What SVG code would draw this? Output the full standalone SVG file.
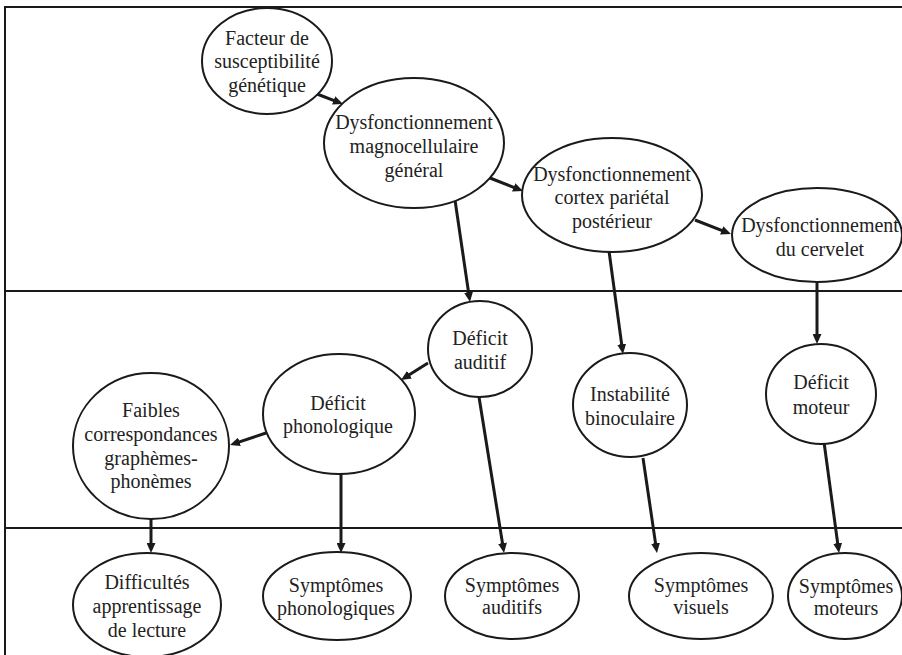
<svg xmlns="http://www.w3.org/2000/svg" width="902" height="655" viewBox="0 0 902 655">
<style>
.n{fill:#fff;stroke:#1a1a1a;stroke-width:2}
text{font-family:'Liberation Serif','Times New Roman',serif;font-size:20px;fill:#222;text-anchor:middle}
.f{stroke:#1a1a1a;stroke-width:2;fill:none}
.c{stroke:#1a1a1a;stroke-width:3;fill:none;marker-end:url(#ah)}
</style>
<defs>
<marker id="ah" markerUnits="userSpaceOnUse" markerWidth="10" markerHeight="9" refX="4" refY="4.5" orient="auto">
<path d="M0,0 L10,4.5 L0,9 z" fill="#1a1a1a"/>
</marker>
</defs>
<g id="frame">
<path class="f" d="M5,655 V7 H902"/>
<path class="f" d="M5,291 H902"/>
<path class="f" d="M5,528 H902"/>
</g>
<g id="connectors">
<line class="c" x1="317" y1="94" x2="337.4" y2="101.8"/>
<line class="c" x1="490" y1="178" x2="517.4" y2="188.8"/>
<line class="c" x1="455" y1="200" x2="469.1" y2="296.1"/>
<line class="c" x1="609" y1="251" x2="622.2" y2="348.1"/>
<line class="c" x1="695" y1="220" x2="725.4" y2="231.8"/>
<line class="c" x1="817" y1="283" x2="817" y2="338"/>
<line class="c" x1="428" y1="363" x2="406.1" y2="376.8"/>
<line class="c" x1="266" y1="433" x2="235.7" y2="443.1"/>
<line class="c" x1="151" y1="519" x2="151" y2="547"/>
<line class="c" x1="341" y1="474" x2="341" y2="547"/>
<line class="c" x1="479" y1="397" x2="503.1" y2="547.1"/>
<line class="c" x1="643" y1="458" x2="656.1" y2="547.1"/>
<line class="c" x1="824" y1="442" x2="838.2" y2="547.1"/>
</g>
<g id="facteur">
<ellipse class="n" cx="267" cy="61" rx="65" ry="53"/>
<text x="267" y="45">Facteur de</text>
<text x="267" y="68">susceptibilité</text>
<text x="267" y="92">génétique</text>
</g>
<g id="magno">
<ellipse class="n" cx="414" cy="143" rx="90" ry="65"/>
<text x="414" y="129">Dysfonctionnement</text>
<text x="414" y="153">magnocellulaire</text>
<text x="414" y="177">général</text>
</g>
<g id="cortex">
<ellipse class="n" cx="612" cy="195" rx="90" ry="57"/>
<text x="612" y="181">Dysfonctionnement</text>
<text x="612" y="204">cortex pariétal</text>
<text x="612" y="228">postérieur</text>
</g>
<g id="cervelet">
<ellipse class="n" cx="817" cy="235" rx="85" ry="47"/>
<text x="820" y="232">Dysfonctionnement</text>
<text x="820" y="256">du cervelet</text>
</g>
<g id="deficit-auditif">
<ellipse class="n" cx="480" cy="349" rx="52" ry="48"/>
<text x="480" y="345">Déficit</text>
<text x="480" y="369">auditif</text>
</g>
<g id="deficit-phono">
<ellipse class="n" cx="339" cy="414" rx="76" ry="60"/>
<text x="338" y="410">Déficit</text>
<text x="338" y="433">phonologique</text>
</g>
<g id="faibles">
<ellipse class="n" cx="151" cy="446" rx="78" ry="73"/>
<text x="151" y="417">Faibles</text>
<text x="151" y="441">correspondances</text>
<text x="151" y="465">graphèmes-</text>
<text x="151" y="488">phonèmes</text>
</g>
<g id="instabilite">
<ellipse class="n" cx="630" cy="405" rx="57" ry="52"/>
<text x="630" y="401">Instabilité</text>
<text x="630" y="425">binoculaire</text>
</g>
<g id="deficit-moteur">
<ellipse class="n" cx="821" cy="394" rx="55" ry="50"/>
<text x="821" y="389">Déficit</text>
<text x="821" y="414">moteur</text>
</g>
<g id="difficultes">
<ellipse class="n" cx="147" cy="605" rx="74" ry="52"/>
<text x="147" y="589">Difficultés</text>
<text x="147" y="613">apprentissage</text>
<text x="147" y="637">de lecture</text>
</g>
<g id="sympt-phono">
<ellipse class="n" cx="337" cy="596" rx="74" ry="44"/>
<text x="336" y="592">Symptômes</text>
<text x="336" y="615">phonologiques</text>
</g>
<g id="sympt-auditifs">
<ellipse class="n" cx="512" cy="596" rx="67" ry="43"/>
<text x="512" y="592">Symptômes</text>
<text x="512" y="614">auditifs</text>
</g>
<g id="sympt-visuels">
<ellipse class="n" cx="701" cy="596" rx="72" ry="43"/>
<text x="701" y="592">Symptômes</text>
<text x="701" y="614">visuels</text>
</g>
<g id="sympt-moteurs">
<ellipse class="n" cx="845" cy="596" rx="57" ry="43"/>
<text x="846" y="593">Symptômes</text>
<text x="846" y="615">moteurs</text>
</g>
</svg>
